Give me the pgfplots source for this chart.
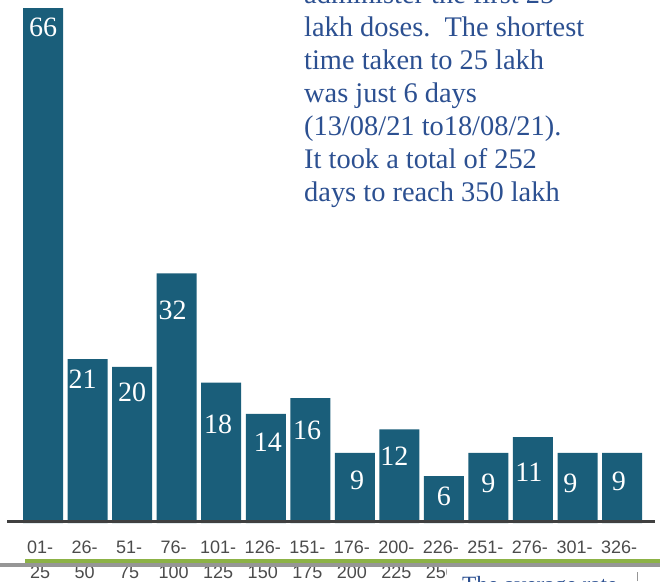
\documentclass[border=0pt]{standalone}
\usepackage{fontspec}
\setmainfont{Liberation Serif}
\newfontfamily\arialfont{Liberation Sans}
\usepackage{pgfplots}
\pgfplotsset{compat=1.18}
\definecolor{barcol}{RGB}{26,94,122}
\definecolor{txtblue}{RGB}{44,80,145}
\definecolor{tickgray}{RGB}{75,75,75}
\definecolor{lgreen}{RGB}{140,178,70}
\definecolor{lgray}{RGB}{150,150,150}
\definecolor{axgray}{RGB}{64,64,64}
\pgfplotstableread{
x y
0 66
1 21
2 20
3 32
4 18
5 14
6 16
7 9
8 12
9 6
10 9
11 11
12 9
13 9
}\bars
\pgfplotstableread{
x y lbl
0 63.5 66
0.89 18.4 21
2 16.7 20
2.91 27.2 32
3.93 12.6 18
5.05 10.3 14
5.93 11.9 16
7.05 5.5 9
7.89 8.5 12
9 3.4 6
10 5.1 9
10.91 6.5 11
11.84 5.1 9
12.93 5.3 9
}\labels
\begin{document}
\begin{tikzpicture}[x=1pt,y=1pt]
\useasboundingbox (0,0) rectangle (660,581);
\clip (0,0) rectangle (660,581);
\begin{axis}[
  at={(7pt,58pt)}, anchor=south west,
  scale only axis, width=648pt, height=523pt,
  xmin=-0.81, xmax=13.74, ymin=0, ymax=67.05,
  axis line style={draw=none},
  ytick=\empty,
  xtick={0,...,13},
  major tick length=0pt,
  xticklabels={{01-\\25},{26-\\50},{51-\\75},{76-\\100},{101-\\125},{126-\\150},{151-\\175},{176-\\200},{200-\\225},{226-\\250},{251-\\275},{276-\\300},{301-\\325},{326-\\350}},
  xticklabel style={align=center, anchor=north, inner sep=0pt, yshift=-18pt, xshift=-3pt,
    text=tickgray, font={\arialfont\fontsize{18}{25}\selectfont}},
  clip=false,
]
\addplot[ybar, bar width=40pt, fill=barcol, draw=none] table[x=x,y=y] {\bars};
\addplot[draw=none, mark=none, nodes near coords, point meta=explicit symbolic,
  nodes near coords style={anchor=center, inner sep=0pt, text=white,
    font={\fontsize{28}{28}\selectfont}}] table[x=x,y=y,meta=lbl] {\labels};
\end{axis}
\draw[axgray, line width=2.5pt] (7,59.5) -- (655,59.5);
\fill[white] (447,0) rectangle (660,14);
\fill[lgray] (0,14) rectangle (660,18);
\fill[lgreen] (25,18) rectangle (660,22);
\draw[lgray, line width=0.8pt] (637,0) -- (637,9);
\node[anchor=base west, inner sep=0pt, text=txtblue, font={\fontsize{23.3}{28}\selectfont}] at (462,-11.4) {The average rate};
\begin{scope}[every node/.style={anchor=base west, inner sep=0pt, text=txtblue, font={\fontsize{28.4}{33}\selectfont}}]
\node at (304,577) {administer the first 25};
\node at (304,544) {lakh doses.~~The shortest};
\node at (304,511) {time taken to 25 lakh};
\node at (304,478) {was just 6 days};
\node at (304,445) {(13/08/21 to18/08/21).};
\node at (304,412) {It took a total of 252};
\node at (304,379) {days to reach 350 lakh};
\end{scope}
\end{tikzpicture}
\end{document}
